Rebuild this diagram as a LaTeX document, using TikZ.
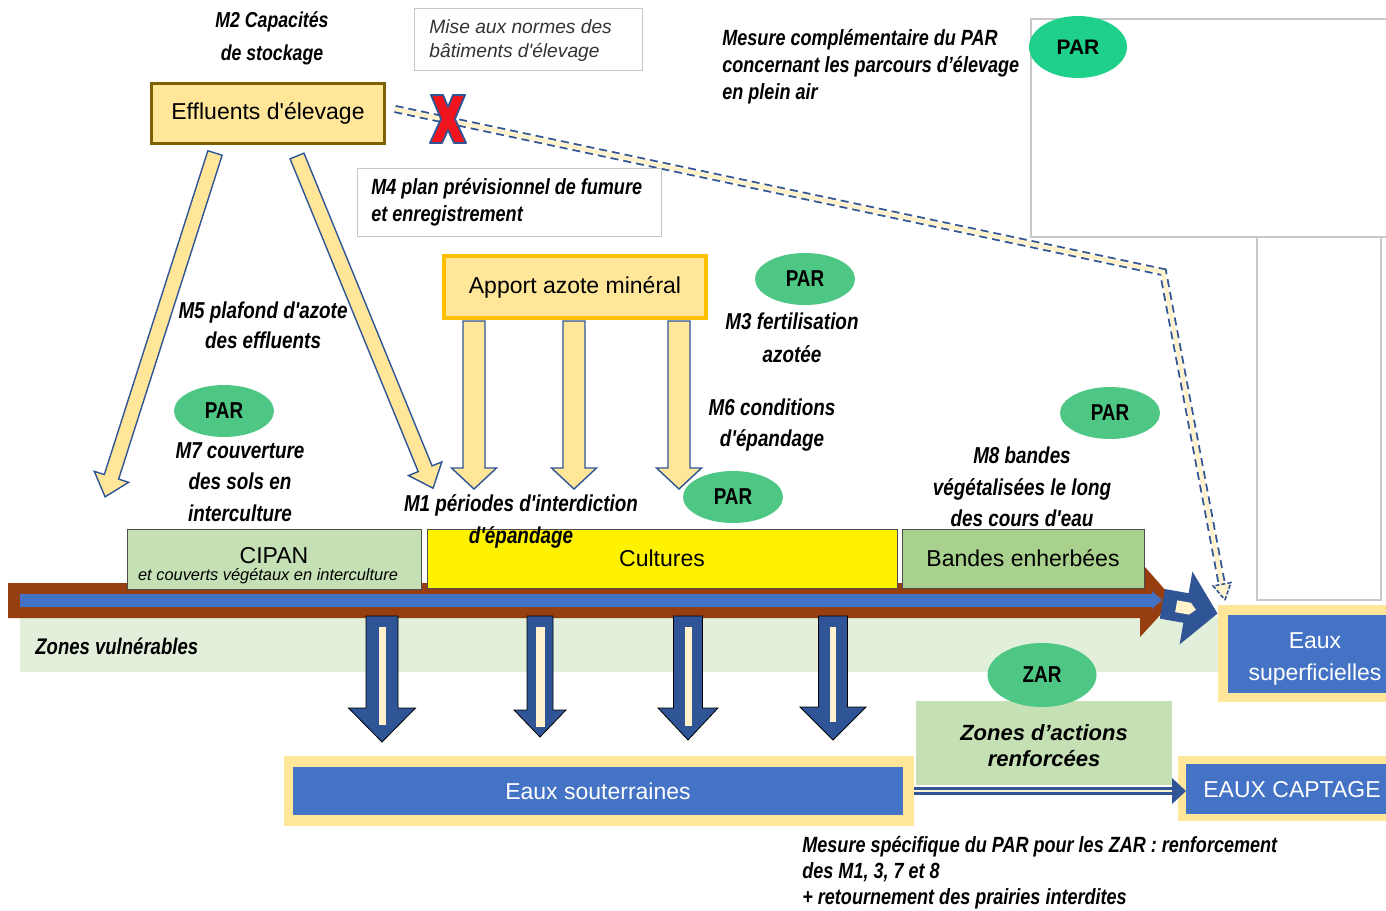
\documentclass[tikz,border=0pt]{standalone}
\usepackage{fontspec}
\setmainfont{Liberation Sans}
\newfontfamily\regfam{Liberation Sans}
\newfontfamily\narrowfam{Liberation Sans}[FakeStretch=0.82]
\usetikzlibrary{shapes.geometric}
\definecolor{cream}{RGB}{255,230,153}
\definecolor{paler}{RGB}{255,242,204}
\definecolor{darkblue}{RGB}{47,85,151}
\definecolor{midblue}{RGB}{68,114,196}
\definecolor{brownbar}{RGB}{150,62,16}
\definecolor{ltgreen}{RGB}{226,239,218}
\definecolor{cipan}{RGB}{197,224,180}
\definecolor{bandes}{RGB}{169,209,142}
\definecolor{pargreen}{RGB}{78,199,132}
\definecolor{partop}{RGB}{30,208,138}
\definecolor{olive}{RGB}{127,96,0}
\definecolor{gold}{RGB}{255,192,0}
\definecolor{xred}{RGB}{240,20,30}
\newcommand{\blockarrow}[8]{%
\begin{scope}[shift={(#1,#2)},rotate=#3]
\draw[#8] (0,-#5) -- ({#4-#7},-#5) -- ({#4-#7},-#6) -- (#4,0) -- ({#4-#7},#6) -- ({#4-#7},#5) -- (0,#5) -- cycle;
\end{scope}}
\tikzset{
 lbl/.style 2 args={font=\narrowfam\bfseries\itshape\fontsize{#1}{#2}\selectfont, align=center, inner sep=0pt},
 par/.style={ellipse, fill=pargreen, minimum width=50pt, minimum height=26pt, inner sep=0pt, font=\narrowfam\bfseries\fontsize{11.5}{13}\selectfont},
 gbox/.style={rectangle, draw=black!70, line width=0.5pt, inner sep=0pt},
 note/.style={rectangle, draw=black!22, line width=0.5pt, fill=white},
 faint/.style={draw=black!22, line width=0.6pt, fill=white},
 yarrow/.style={fill=cream, draw=darkblue, line width=0.7pt, line join=miter},
 barrow/.style={fill=darkblue},
 wtxt/.style={text=white, font=\regfam\fontsize{11.5}{16}\selectfont, align=center, inner sep=0pt},
 btxt/.style={font=\regfam\fontsize{11.5}{14}\selectfont, inner sep=0pt},
}
\begin{document}
\regfam
\begin{tikzpicture}[x=0.5pt,y=-0.5pt]
\useasboundingbox (0,0) rectangle (1386,910);
\clip (0,0) rectangle (1386,910);
% faint placeholder frames
\draw[faint] (1031,19) rectangle (1392,237);
\draw[faint] (1257,237) rectangle (1381,600);
% zones vulnerables band
\fill[ltgreen] (20,617) rectangle (1220,672);
\node[lbl={11.3}{14}, anchor=west] (zv) at (35,646) {Zones vulnérables};
% brown bar
\fill[brownbar] (8,583) -- (1145,583) -- (1145,567) -- (1174,600) -- (1140,637) -- (1140,618) -- (8,618) -- cycle;
\fill[midblue] (20,594) -- (1152,594) -- (1152,591) -- (1162,600) -- (1152,609) -- (1152,607) -- (20,607) -- cycle;
% chevron arrow
\begin{scope}[shift={(1186,608)}, rotate=-10]
\fill[darkblue] (-24,-15) -- (0,-15) -- (0,-37) -- (32,0) -- (0,37) -- (0,15) -- (-24,15) -- cycle;
\fill[paler] (-10,-6) -- (4,-6) -- (10,0) -- (4,6) -- (-10,6) -- cycle;
\end{scope}
% boxes on bar
\node[gbox, fill=cipan, minimum width=147pt, minimum height=30pt] (cipan) at (274,559) {};
\node[btxt] at (274,556) {CIPAN};
\node[font=\regfam\itshape\fontsize{8.2}{10}\selectfont, inner sep=0pt] at (268,576) {et couverts végétaux en interculture};
\node[gbox, fill=yellow, minimum width=235pt, minimum height=29.5pt, btxt] (cult) at (662,558.5) {Cultures};
\node[gbox, fill=bandes, minimum width=121pt, minimum height=29.5pt, btxt] (band) at (1023,558.5) {Bandes enherbées};
% blue down arrows
\blockarrow{382}{616}{-90}{126}{16}{33.5}{34}{barrow}
\blockarrow{540}{616}{-90}{121}{13}{26}{27}{barrow}
\blockarrow{688}{616}{-90}{124}{14.5}{30}{32}{barrow}
\blockarrow{833}{616}{-90}{124}{14.5}{33}{33}{barrow}
\fill[paler] (379,627) rectangle (386,725);
\fill[paler] (536,627) rectangle (545,727);
\fill[paler] (685,627) rectangle (692,726);
\fill[paler] (830,627) rectangle (836,722);
% eaux superficielles
\fill[cream] (1218,605) rectangle (1392,702);
\node[fill=midblue, minimum width=82pt, minimum height=39pt, inner sep=0pt, anchor=north west] (esup) at (1228,615) {};
\node[wtxt] at (1315,659) {Eaux\\superficielles};
% eaux souterraines
\node[fill=cream, minimum width=315pt, minimum height=35pt, inner sep=0pt] (soutout) at (599,791) {};
\node[fill=midblue, minimum width=305pt, minimum height=24pt, inner sep=0pt, wtxt] (sout) at (598,791) {Eaux souterraines};
% captage
\node[fill=cream, minimum width=107pt, minimum height=32.5pt, inner sep=0pt, anchor=north west] (captout) at (1178,756) {};
\node[fill=midblue, minimum width=103pt, minimum height=25pt, inner sep=0pt, anchor=north west] (capt) at (1186,764) {};
\node[wtxt] at (1292,790) {EAUX CAPTAGE};
% ZAR box
\node[fill=cipan, minimum width=128pt, minimum height=42pt, inner sep=0pt] (zarbox) at (1044,743) {};
\node[align=center, inner sep=0pt, font=\regfam\bfseries\itshape\fontsize{11}{13}\selectfont] at (1044,746) {Zones d’actions\\renforcées};
\node[par, minimum width=54.5pt, minimum height=32pt] (zar) at (1042,675) {ZAR};
% captage connector
\coordinate (cbase) at (1173,791);
\draw[darkblue, line width=1.1pt, double=paler, double distance=1.4pt] (soutout.east |- cbase) -- (cbase);
\fill[darkblue] (1172,778) -- (1186,791) -- (1172,804) -- cycle;
% effluents
\node[draw=olive, line width=1.5pt, fill=cream, minimum width=116.5pt, minimum height=30pt, btxt] (eff) at (268,113) {Effluents d'élevage};
\node[lbl={10.8}{16.5}] (m2) at (272,38) {M2 Capacités\\de stockage};
\node[note, minimum width=114pt, minimum height=31pt] (mise) at (528,39) {};
\node[align=left, anchor=west, inner sep=0pt, font=\regfam\itshape\fontsize{9.6}{12}\selectfont, text=black!80] (miset) at (429,41) {Mise aux normes des\\bâtiments d'élevage};
\node[lbl={11}{13.5}, align=left, anchor=west] (mesure) at (722,67) {Mesure complémentaire du PAR\\concernant les parcours d’élevage\\en plein air};
\node[ellipse, fill=partop, minimum width=49pt, minimum height=31pt, inner sep=0pt, font=\regfam\bfseries\fontsize{10.5}{12}\selectfont] (par0) at (1078,47) {PAR};
% dashed connector
\coordinate (dstart) at (395,109);
\coordinate (dbend) at (1163,272);
\coordinate (dend) at (1222,585);
\draw[darkblue, line width=4pt, dash pattern=on 4pt off 2.5pt, line join=miter] (dstart) -- (dbend) -- (dend);
\draw[paler, line width=2.2pt, line join=miter] (dstart) -- (dbend) -- (dend);
\begin{scope}[shift={(1225,600)}, rotate=-79.3]
\draw[fill=paler, draw=darkblue, line width=0.8pt, dash pattern=on 2pt off 1pt] (0,0) -- (-16,-9) -- (-16,9) -- cycle;
\end{scope}
% red X
\draw[fill=xred, draw=darkblue, line width=0.9pt, line join=round] (431,95) -- (443,95) -- (448,107) -- (453,95) -- (465,95) -- (455,119) -- (466,143) -- (454,143) -- (448,130) -- (442,143) -- (430,143) -- (441,119) -- cycle;
% M4 note
\node[note, minimum width=152pt, minimum height=34pt] (m4) at (509,202) {};
\node[lbl={11}{13.5}, align=left, anchor=west] (m4t) at (371,202) {M4 plan prévisionnel de fumure\\et enregistrement};
% apport
\node[draw=gold, line width=2pt, fill=cream, minimum width=131pt, minimum height=31pt, btxt] (apport) at (575,287) {Apport azote minéral};
% yellow block arrows
\blockarrow{215}{153}{-107.73}{361}{7.5}{18}{21}{yarrow}
\blockarrow{297}{156}{-67.72}{359}{7.5}{18}{21}{yarrow}
\blockarrow{474}{321}{-90}{168}{11}{22.5}{21}{yarrow}
\blockarrow{574}{321}{-90}{168}{11}{22.5}{21}{yarrow}
\blockarrow{679}{321}{-90}{168}{11}{22.5}{21}{yarrow}
% labels
\node[par] (par1) at (805,279) {PAR};
\node[lbl={11.5}{16.5}] (m3) at (792,338) {M3 fertilisation\\azotée};
\node[lbl={11.5}{15.5}] (m6) at (772,425) {M6 conditions\\d'épandage};
\node[par] (par2) at (733,497) {PAR};
\node[lbl={11.5}{16}] (m1) at (521,521) {M1 périodes d'interdiction\\d'épandage};
\node[lbl={11.5}{15}] (m5) at (263,325) {M5 plafond d'azote\\des effluents};
\node[par] (par3) at (224,411) {PAR};
\node[lbl={11.5}{15.75}] (m7) at (240,482) {M7 couverture\\des sols en\\interculture};
\node[par] (par4) at (1110,413) {PAR};
\node[lbl={11.5}{15.75}] (m8) at (1022,487) {M8 bandes\\végétalisées le long\\des cours d'eau};
\node[lbl={11}{13}, align=left, anchor=west] (bottom) at (802,873) {Mesure spécifique du PAR pour les ZAR : renforcement\\des M1, 3, 7 et 8\\+ retournement des prairies interdites};
\end{tikzpicture}
\end{document}
